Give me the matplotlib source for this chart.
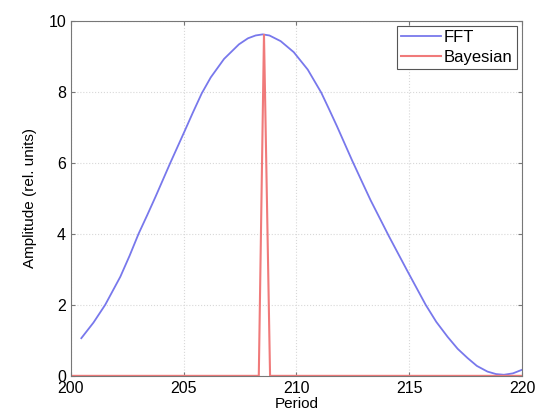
import matplotlib.pyplot as plt

plt.rcParams['font.family'] = ['Liberation Sans', 'DejaVu Sans']

# FFT amplitude
fft_period = [200.46, 201.0, 201.52, 202.19, 202.6, 203.0, 203.38, 203.75, 204.41, 205.05,
              205.4, 205.8, 206.2, 206.79, 207.45, 207.85, 208.19, 208.5, 208.8, 209.3,
              209.88, 210.5, 211.1, 211.45, 211.8, 212.47, 212.9, 213.29, 214.10, 214.92, 215.73,
              216.2, 216.70, 217.15, 217.59, 218.0, 218.47, 218.85, 219.2, 219.6, 220.0]
fft_amp = [1.06, 1.5, 2.0, 2.79, 3.38, 4.0, 4.52, 5.04, 6.0, 6.9,
           7.4, 7.95, 8.4, 8.92, 9.33, 9.5, 9.58, 9.61, 9.58, 9.42,
           9.11, 8.62, 7.97, 7.5, 7.02, 6.06, 5.47, 4.94, 3.93, 2.95, 2.0,
           1.52, 1.1, 0.76, 0.5, 0.28, 0.12, 0.05, 0.03, 0.07, 0.17]

# Bayesian estimate: a narrow spike
bayes_period = [200.0, 208.33, 208.56, 208.83, 220.0]
bayes_amp = [0.0, 0.0, 9.6, 0.0, 0.0]

xticks = [200, 205, 210, 215, 220]
yticks = [0, 2, 4, 6, 8, 10]

fig = plt.figure(figsize=(5.5, 4.19), dpi=100)
ax = fig.add_axes([0.129, 0.103, 0.82, 0.848])

ax.plot(fft_period, fft_amp, color='#7878ec', linewidth=1.3, label='FFT')
ax.plot(bayes_period, bayes_amp, color='#f07a7a', linewidth=1.5, label='Bayesian')

ax.set_xlim(200, 220)
ax.set_ylim(0, 10)
ax.set_xticks(xticks)
ax.set_yticks(yticks)
ax.grid(True, linestyle=':', color='#d8d8d8', linewidth=0.8)
ax.tick_params(direction='in', top=True, right=True, labelsize=11.5, length=3, color='#777777')
for s in ax.spines.values():
    s.set_color('#777777')

ax.set_xlabel('Period', fontsize=11, labelpad=1)
ax.set_ylabel('Amplitude (rel. units)', fontsize=11, labelpad=8)

leg = ax.legend(loc='upper right', fontsize=12, fancybox=False, framealpha=1,
                edgecolor='#555555', borderaxespad=0.3, handlelength=2.4,
                borderpad=0.25, labelspacing=0.3, handletextpad=0.2)
leg.get_frame().set_linewidth(0.8)

fig.savefig('out.png', dpi=100)
